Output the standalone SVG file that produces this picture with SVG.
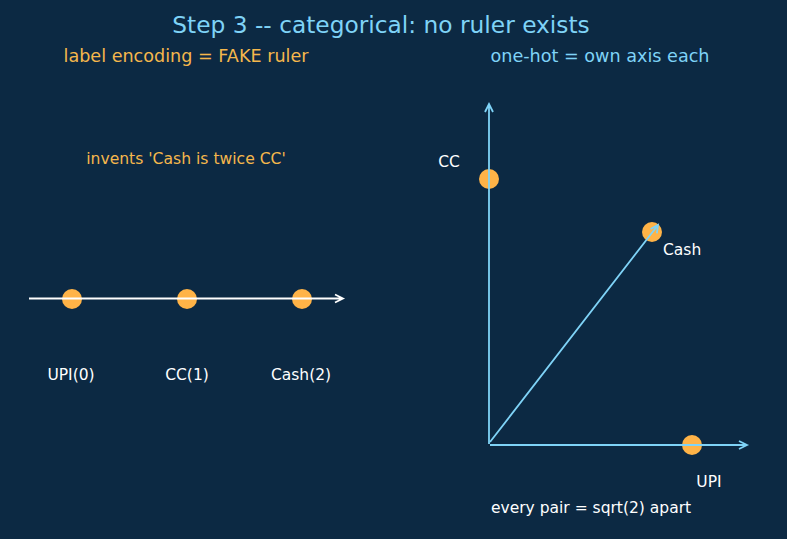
<svg xmlns="http://www.w3.org/2000/svg" width="787" height="539" viewBox="0 0 787 539">
<style>
text{font-family:"DejaVu Sans",sans-serif}
.dot{fill:#ffb347}
.w{fill:#ffffff;font-size:15.5px}
.o{fill:#f5b74c}
.b{fill:#7fd3f7}
.axw{stroke:#ffffff;stroke-width:1.8;fill:none}
.axb{stroke:#7fd3f7;stroke-width:1.8;fill:none}
</style>
<rect width="787" height="539" fill="#0c2943"/>
<text x="381" y="33" text-anchor="middle" class="b" font-size="23.3">Step 3 -- categorical: no ruler exists</text>
<text x="186" y="62" text-anchor="middle" class="o" font-size="17.6">label encoding = FAKE ruler</text>
<text x="600" y="62" text-anchor="middle" class="b" font-size="17.6">one-hot = own axis each</text>
<text x="186" y="164" text-anchor="middle" class="o" font-size="15.6">invents 'Cash is twice CC'</text>
<g id="upi0"><circle class="dot" cx="72" cy="299" r="10"/><text class="w" x="71" y="380" text-anchor="middle">UPI(0)</text></g>
<g id="cc1"><circle class="dot" cx="187" cy="299" r="10"/><text class="w" x="187" y="380" text-anchor="middle">CC(1)</text></g>
<g id="cash2"><circle class="dot" cx="302" cy="299" r="10"/><text class="w" x="301" y="380" text-anchor="middle">Cash(2)</text></g>
<g id="cc"><circle class="dot" cx="489" cy="179" r="10"/><text class="w" x="449" y="167" text-anchor="middle">CC</text></g>
<g id="cash"><circle class="dot" cx="652" cy="232" r="10"/><text class="w" x="663" y="255">Cash</text></g>
<g id="upi"><circle class="dot" cx="692" cy="445" r="10"/><text class="w" x="709" y="487" text-anchor="middle">UPI</text></g>
<text class="w" x="491" y="513">every pair = sqrt(2) apart</text>
<g id="connectors">
<path class="axw" d="M29 298.5H343M335 294.5L343 298.5L335 302.5"/>
<path class="axb" d="M489 444V104M485 112L489 104L493 112"/>
<path class="axb" d="M490 445H747M739 441L747 445L739 449"/>
<path class="axb" d="M490 442L658 225M650.6 229L658 225L656.9 233.3"/>
</g>
</svg>
